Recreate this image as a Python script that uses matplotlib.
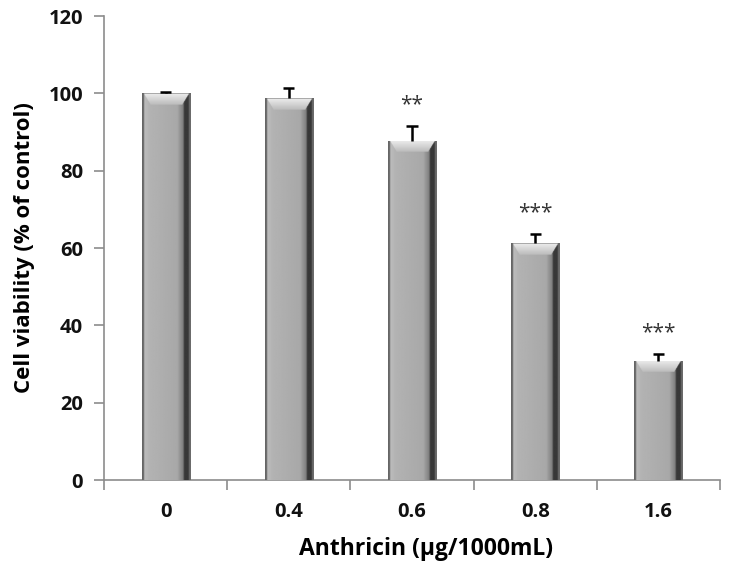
import matplotlib
matplotlib.use("Agg")
import matplotlib.pyplot as plt
import numpy as np

categories = ["0", "0.4", "0.6", "0.8", "1.6"]
viability = [100.0, 98.7, 87.7, 61.2, 30.8]
errors = [0.3, 2.8, 3.8, 2.4, 1.8]
stars = ["", "", "**", "***", "***"]

plt.rcParams['font.family'] = ['Open Sans', 'DejaVu Sans']


def bar_image(height, bevel=3.1, rows_per_unit=8, cols=120):
    ny = max(int(height * rows_per_unit), 2)
    u = np.linspace(0, 1, cols)
    # horizontal profile of the shaded column
    prof = np.interp(u, [0, 0.03, 0.05, 0.15, 0.72, 0.84, 0.87, 0.95, 0.97, 1.0],
                     [0.40, 0.40, 0.74, 0.70, 0.66, 0.50, 0.22, 0.22, 0.42, 0.42])
    img = np.tile(prof, (ny, 1))
    # top bevel (trapezoid), rows counted from the top
    bev_rows = int(bevel * rows_per_unit)
    for r in range(min(bev_rows, ny)):
        frac = r / max(bev_rows, 1)
        inset = frac * 0.15
        mask = (u > 0.03 + inset) & (u < 0.97 - inset)
        img[r, mask] = 0.93 - 0.20 * frac
    img[0, :] = 0.40
    return img


fig = plt.figure(figsize=(7.31, 5.70), dpi=100)
ax = fig.add_axes([104 / 731, 90 / 570, 616 / 731, 464 / 570])

x = np.arange(len(categories))
width = 0.39
bars = ax.bar(x, viability, width, color="#aaaaaa", edgecolor="none", zorder=2)
for rect, val in zip(bars, viability):
    x0 = rect.get_x()
    im = ax.imshow(bar_image(val), cmap="gray", vmin=0, vmax=1, aspect="auto",
                   extent=[x0, x0 + rect.get_width(), 0, val], zorder=3,
                   interpolation="bilinear")
    im.set_clip_path(rect)

# upper error bars only
tops = np.array(viability) + np.array(errors)
ax.vlines(x, viability, tops, color="black", linewidth=1.8, zorder=4)
ax.hlines(tops, x - 0.045, x + 0.045, color="black", linewidth=1.8, zorder=4)

for xi, t, s in zip(x, tops, stars):
    if s:
        ax.text(xi, t + 5.5, s, ha="center", va="center", fontsize=15,
                color="#333333", zorder=5)

ax.set_xlim(-0.5, len(categories) - 0.5)
ax.set_ylim(0, 120)
ax.set_yticks(np.arange(0, 121, 20))
ax.set_xticks(x)
ax.set_xticklabels(categories)
ax.set_xticks(np.arange(-0.5, len(categories), 1.0), minor=True)

for side in ["top", "right"]:
    ax.spines[side].set_visible(False)
for side in ["left", "bottom"]:
    ax.spines[side].set_color("#8c8c8c")
    ax.spines[side].set_linewidth(1.2)

ax.tick_params(axis="y", direction="out", length=7, width=1.2, color="#8c8c8c",
               labelsize=14.5, pad=8)
ax.tick_params(axis="x", which="major", length=0, labelsize=14.5, pad=16)
ax.tick_params(axis="x", which="minor", direction="out", length=7, width=1.2,
               color="#8c8c8c")
for lab in ax.get_xticklabels() + ax.get_yticklabels():
    lab.set_fontweight("bold")
    lab.set_color("#111111")

ax.set_ylabel("Cell viability (% of control)", fontsize=16, fontweight="bold", labelpad=10)
ax.set_xlabel("Anthricin (μg/1000mL)", fontsize=16.5, fontweight="bold")
ax.xaxis.set_label_coords(0.523, -0.122)

fig.savefig("out.png", dpi=100)
